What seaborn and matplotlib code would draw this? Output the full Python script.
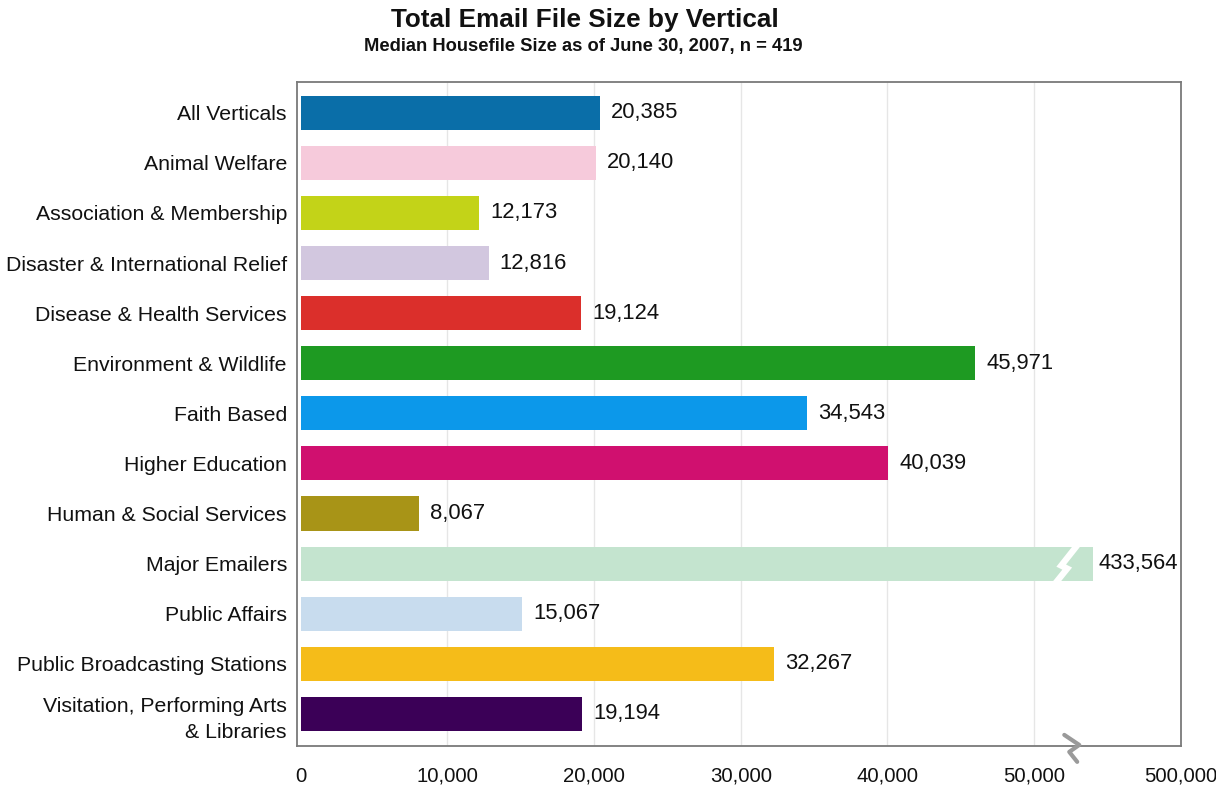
import matplotlib
matplotlib.use("Agg")
import matplotlib.pyplot as plt
import seaborn as sns
import pandas as pd
import numpy as np

# ---- data ----
categories = [
    "All Verticals", "Animal Welfare", "Association & Membership",
    "Disaster & International Relief", "Disease & Health Services",
    "Environment & Wildlife", "Faith Based", "Higher Education",
    "Human & Social Services", "Major Emailers", "Public Affairs",
    "Public Broadcasting Stations", "Visitation, Performing Arts\n& Libraries",
]
values = [20385, 20140, 12173, 12816, 19124, 45971, 34543, 40039,
          8067, 433564, 15067, 32267, 19194]
colors = ["#0a6ea8", "#f6cadb", "#c3d318", "#d2c7df", "#db2f2b", "#1e9a22",
          "#0c98ea", "#d0106f", "#a89417", "#c4e4cf", "#c8dcee", "#f5bc19",
          "#3b0057"]
x_ticks = [0, 10000, 20000, 30000, 40000, 50000, 60000]
x_tick_labels = ["0", "10,000", "20,000", "30,000", "40,000", "50,000", "500,000"]
title = "Total Email File Size by Vertical"
subtitle = "Median Housefile Size as of June 30, 2007, n = 419"

# broken-axis: values beyond the break are drawn up to this display cap
axis_break = 52600
break_cap = 54000

display_vals = [min(v, break_cap) for v in values]
df = pd.DataFrame({"category": categories, "value": values, "display": display_vals})

sns.set_theme(style="white")
plt.rcParams["font.family"] = ["Liberation Sans", "DejaVu Sans"]

fig = plt.figure(figsize=(12.16, 7.86), dpi=100)
ax = fig.add_axes([0.244, 0.051, 0.727, 0.845])

sns.barplot(data=df, y="category", x="display", hue="category",
            palette=colors, orient="h", dodge=False, legend=False,
            width=0.68, ax=ax, edgecolor="none", saturation=1)

ax.set_xlim(-280, 60000)
ax.set_ylim(12.64, -0.62)
ax.set_xticks(x_ticks)
ax.set_xticklabels(x_tick_labels, fontsize=14.7, color="#111111")
ax.tick_params(axis="x", length=0, pad=15)
ax.tick_params(axis="y", length=0, pad=7, labelsize=15.3, labelcolor="#111111")
for lbl in ax.get_yticklabels():
    lbl.set_linespacing(1.45)
ax.set_xlabel("")
ax.set_ylabel("")

for xg in x_ticks[1:-1]:
    ax.axvline(xg, color="#e6e6e6", lw=1, zorder=0)

for s in ax.spines.values():
    s.set_visible(True)
    s.set_color("#7a7a7a")
    s.set_linewidth(1.3)

# value labels
for i, (v, d) in enumerate(zip(values, display_vals)):
    off = 8 if v <= break_cap else 4
    ax.annotate(f"{v:,}", xy=(d, i), xytext=(off, 0), textcoords="offset points",
                va="center", ha="left", fontsize=15.8, color="#111111")

# break mark through the capped bar
for i, v in enumerate(values):
    if v > break_cap:
        zx = axis_break + np.array([330, -750, -340, -1280])
        zy = i + np.array([-0.36, 0.04, 0.10, 0.44])
        ax.plot(zx, zy, color="white", lw=4.5, solid_joinstyle="miter", zorder=5)

# break mark on the x axis
trans = ax.get_xaxis_transform()
ax.plot(axis_break + np.array([-540, 480, -200, 340]),
        [0.0166, 0.0015, -0.009, -0.024], transform=trans, color="#9a9a9a",
        lw=3, clip_on=False, zorder=6)

fig.text(0.481, 0.975, title, ha="center", va="center", fontsize=18.8,
         fontweight="bold", color="#111111")
fig.text(0.48, 0.941, subtitle, ha="center", va="center", fontsize=13.2,
         fontweight="bold", color="#111111")

fig.savefig("out.png", dpi=100, facecolor="white")
